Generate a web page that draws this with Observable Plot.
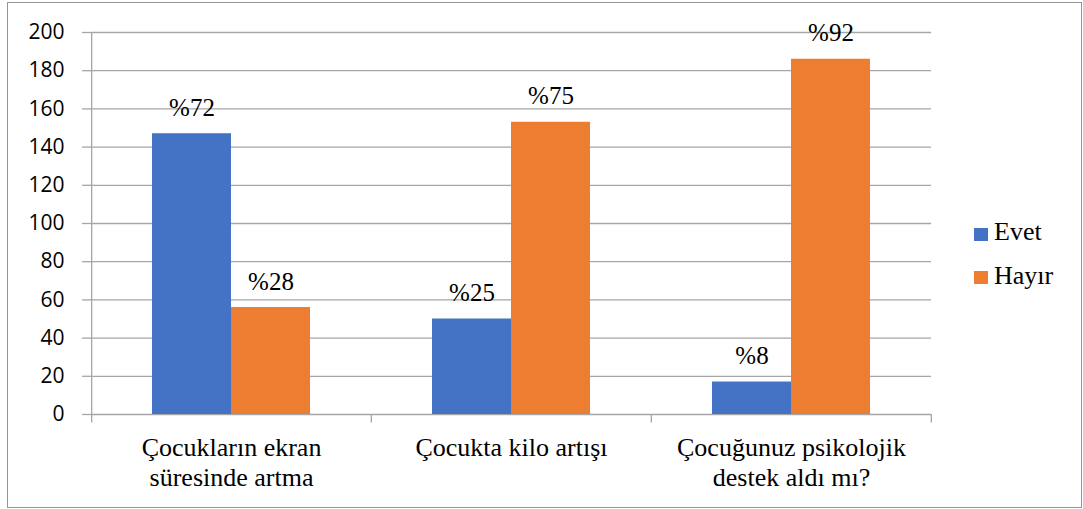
<!DOCTYPE html>
<html>
<head>
<meta charset="utf-8">
<script src="https://cdn.jsdelivr.net/npm/d3@7"></script>
<script src="https://cdn.jsdelivr.net/npm/@observablehq/plot@0.6"></script>
<style>
  body { margin: 0; background: #fff; }
  #wrap { position: relative; width: 1083px; height: 509px; overflow: hidden; }
  #border { position: absolute; left: 7px; top: 2px; width: 1075px; height: 506px; border: 1.5px solid #959595; box-sizing: border-box; pointer-events: none; }
  .sw { position: absolute; left: 974px; width: 14px; height: 13px; }
  .lt { position: absolute; left: 994px; font-family: "Liberation Serif"; font-size: 26px; line-height: 26px; color: #000; white-space: nowrap; }
</style>
</head>
<body>
<div id="wrap"><div id="chart"></div><div id="legend"></div><div id="border"></div></div>
<script>
// ---- data ----
const categories = ["Çocukların ekran süresinde artma", "Çocukta kilo artışı", "Çocuğunuz psikolojik destek aldı mı?"];
const categoryLines = ["Çocukların ekran\nsüresinde artma", "Çocukta kilo artışı", "Çocuğunuz psikolojik\ndestek aldı mı?"];
const series = ["Evet", "Hayır"];
const colors = ["#4472C4", "#ED7D31"];
const evetValues = [147, 50, 17];
const hayirValues = [56, 153, 186];
const evetLabels = ["%72", "%25", "%8"];
const hayirLabels = ["%28", "%75", "%92"];
const yTicks = [0, 20, 40, 60, 80, 100, 120, 140, 160, 180, 200];

// ---- table ----
const rows = categories.flatMap((c, i) => [
  {cat: c, series: series[0], value: evetValues[i], label: evetLabels[i]},
  {cat: c, series: series[1], value: hayirValues[i], label: hayirLabels[i]}
]);

const gridColor = "#a6a6a6";
const serif = "Liberation Serif";

const chart = Plot.plot({
  width: 1083,
  height: 509,
  marginLeft: 90,
  marginRight: 151,
  marginTop: 32,
  marginBottom: 95,
  style: {background: "transparent", overflow: "visible"},
  fx: {domain: categories, padding: 0, axis: null, label: null},
  x: {domain: series, paddingInner: 0, paddingOuter: 0.754, axis: null, label: null},
  y: {domain: [0, 200], axis: null, label: null},
  color: {domain: series, range: colors},
  marks: [
    Plot.ruleY(yTicks, {stroke: gridColor, strokeWidth: 1.3}),
    Plot.axisY(yTicks, {label: null, tickSize: 9, tickPadding: 18, stroke: gridColor, strokeWidth: 1.3, fill: "#000", fontSize: 21, fontFamily: "Open Sans", strokeOpacity: 1}),
    Plot.ruleX([categories[0]], {fx: d => d, x: () => series[0], dx: -100.35, y1: -4.5, y2: 200, stroke: gridColor, strokeWidth: 1.3}),
    Plot.ruleX(categories, {fx: d => d, x: () => series[1], dx: 100.35, y1: -4.5, y2: 0, stroke: gridColor, strokeWidth: 1.3}),
    Plot.barY(rows, {fx: "cat", x: "series", y: "value", fill: "series", insetLeft: 0, insetRight: 0}),
    Plot.text(rows, {fx: "cat", x: "series", y: "value", text: "label", dy: -18, lineAnchor: "bottom", fontSize: 25, fontFamily: serif, fill: "#000"}),
    Plot.text(categories, {fx: d => d, text: d => categoryLines[categories.indexOf(d)], frameAnchor: "bottom", lineAnchor: "top", dy: 20.5, lineHeight: 1.154, fontSize: 26, fontFamily: serif, fill: "#000"})
  ]
});
document.getElementById("chart").appendChild(chart);

// ---- legend ----
const legend = document.getElementById("legend");
const swTops = [227.5, 271];
const txtTops = [219, 262.5];
series.forEach((s, i) => {
  const sw = document.createElement("div");
  sw.className = "sw";
  sw.style.top = swTops[i] + "px";
  sw.style.background = colors[i];
  legend.appendChild(sw);
  const t = document.createElement("div");
  t.className = "lt";
  t.style.top = txtTops[i] + "px";
  t.textContent = s;
  legend.appendChild(t);
});
</script>
</body>
</html>
